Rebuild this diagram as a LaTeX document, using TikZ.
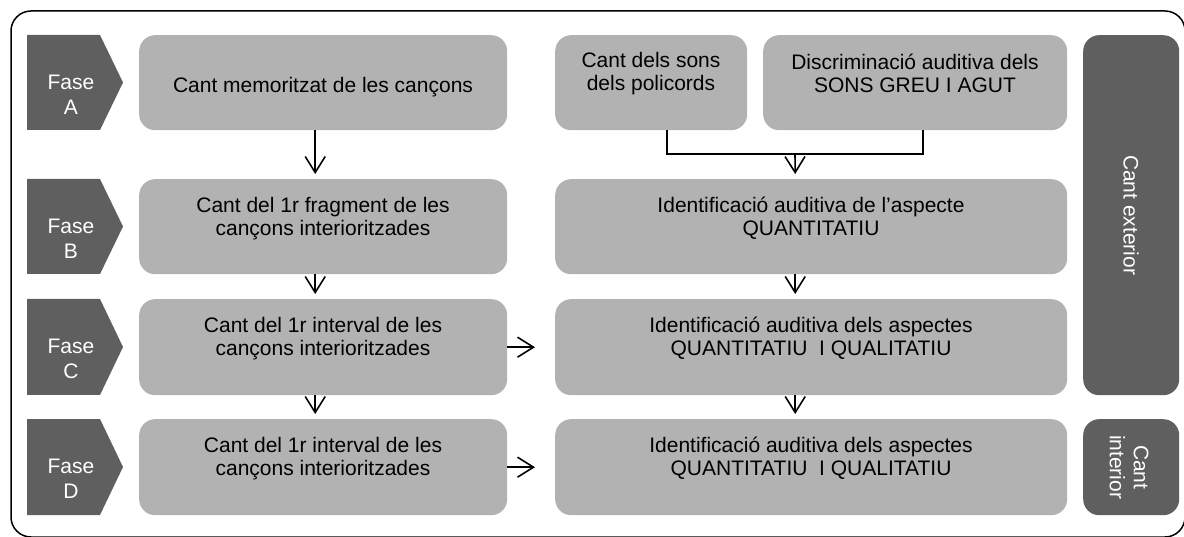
\documentclass[tikz,border=0pt]{standalone}
\usepackage{fontspec}
\setmainfont{Liberation Sans}
\usetikzlibrary{arrows.meta}
\definecolor{lightbox}{RGB}{178,178,178}
\definecolor{darkbox}{RGB}{95,95,95}
\begin{document}
\begin{tikzpicture}[x=1pt,y=-1pt,
  box/.style={fill=lightbox, draw=none, rounded corners=16pt, inner sep=0pt, anchor=north west},
  darkrect/.style={fill=darkbox, draw=none, rounded corners=16pt, inner sep=0pt, anchor=north west},
  txt/.style={font=\fontsize{21}{23}\selectfont, align=center, inner sep=0pt, text=black},
  wtxt/.style={font=\fontsize{21}{25}\selectfont, align=center, inner sep=0pt, text=white},
  chev/.style={fill=darkbox, draw=none},
  conn/.style={draw=black, line width=1.6pt},
  arr/.style={conn, -{Straight Barb[length=16pt,width=20pt]}}
]
\useasboundingbox (0,0) rectangle (1184,537);
\fill[white] (0,0) rectangle (1184,537);
% outer frame
\draw[line width=1.5pt, rounded corners=20pt] (11,11) rectangle (1185,537);

% phase chevrons
\foreach \t/\b/\n in {35/130/A, 179/274/B, 299/395/C, 419/515/D}{
  \fill[chev] (27,\t) -- (100,\t) -- (123,{(\t+\b)/2}) -- (100,\b) -- (27,\b) -- cycle;
}
\node[wtxt] (fA) at (71,94.5) {Fase\\A};
\node[wtxt] (fB) at (71,239) {Fase\\B};
\node[wtxt] (fC) at (71,359) {Fase\\C};
\node[wtxt] (fD) at (71,479) {Fase\\D};

% left boxes
\node[box, minimum width=368pt, minimum height=95pt] (lA) at (139,35) {};
\node[box, minimum width=368pt, minimum height=95pt] (lB) at (139,179) {};
\node[box, minimum width=368pt, minimum height=96pt] (lC) at (139,299) {};
\node[box, minimum width=368pt, minimum height=96pt] (lD) at (139,419) {};
% right boxes
\node[box, minimum width=192pt, minimum height=95pt] (pA1) at (555,35) {};
\node[box, minimum width=304pt, minimum height=95pt] (pA2) at (763,35) {};
\node[box, minimum width=512pt, minimum height=95pt] (rB) at (555,179) {};
\node[box, minimum width=512pt, minimum height=96pt] (rC) at (555,299) {};
\node[box, minimum width=512pt, minimum height=96pt] (rD) at (555,419) {};
% dark side boxes
\node[darkrect, minimum width=96pt, minimum height=360pt] (ext) at (1083,35) {};
\node[darkrect, minimum width=96pt, minimum height=96pt] (int) at (1083,419) {};

% texts
\node[txt] (tA) at (323,87) {Cant memoritzat de les cançons};
\node[txt] (tB) at (323,218.5) {Cant del 1r fragment de les\\cançons interioritzades};
\node[txt] (tC) at (323,338.5) {Cant del 1r interval de les\\cançons interioritzades};
\node[txt] (tD) at (323,458.5) {Cant del 1r interval de les\\cançons interioritzades};
\node[txt] (tA1) at (651,73.5) {Cant dels sons\\dels policords};
\node[txt] (tA2) at (915,73.5) {Discriminació auditiva dels\\SONS GREU I AGUT};
\node[txt] (trB) at (811,218.5) {Identificació auditiva de l’aspecte\\QUANTITATIU};
\node[txt] (trC) at (811,338.5) {Identificació auditiva dels aspectes\\QUANTITATIU~ I QUALITATIU};
\node[txt] (trD) at (811,458.5) {Identificació auditiva dels aspectes\\QUANTITATIU~ I QUALITATIU};
\node[font=\fontsize{21}{23}\selectfont, text=white, inner sep=0pt, rotate=-90] (tExt) at (ext.center) {Cant exterior};
\node[font=\fontsize{21}{24}\selectfont, text=white, inner sep=0pt, align=center, rotate=-90] (tInt) at ([xshift=-2pt]int.center) {Cant\\interior};

% connectors left column
\draw[arr] ([xshift=-8pt]lA.south) -- ([xshift=-8pt,yshift=5pt]lB.north);
\draw[arr] ([xshift=-8pt]lB.south) -- ([xshift=-8pt,yshift=5pt]lC.north);
\draw[arr] ([xshift=-8pt]lC.south) -- ([xshift=-8pt,yshift=5pt]lD.north);
% merge
\coordinate (mj) at (795,154);
\draw[conn] ([xshift=16pt]pA1.south) |- (mj) -| ([xshift=8pt]pA2.south);
\draw[arr] (mj) -- ([xshift=-16pt,yshift=5pt]rB.north);
\draw[arr] ([xshift=-16pt]rB.south) -- ([xshift=-16pt,yshift=5pt]rC.north);
\draw[arr] ([xshift=-16pt]rC.south) -- ([xshift=-16pt,yshift=5pt]rD.north);
% horizontal
\draw[arr] (lC.east) -- ([xshift=-20pt]rC.west);
\draw[arr] (lD.east) -- ([xshift=-20pt]rD.west);
\end{tikzpicture}
\end{document}
